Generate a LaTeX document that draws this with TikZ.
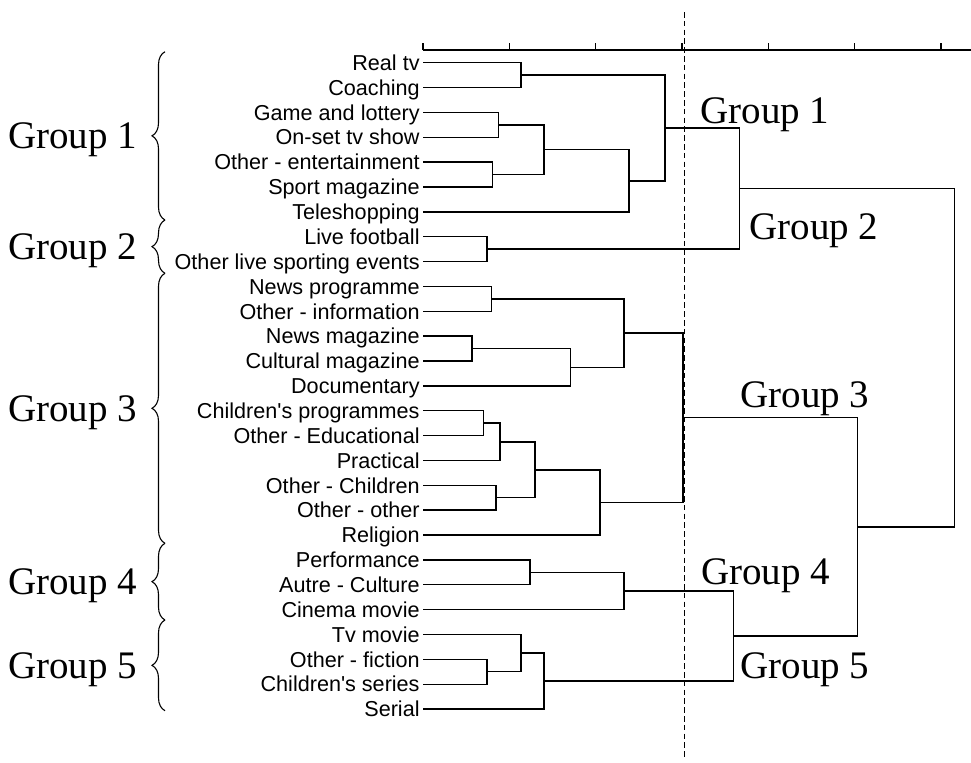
\documentclass[tikz,border=0pt]{standalone}
\usepackage{fontspec}
\setmainfont{Liberation Serif}
\newfontfamily\leaffont{Liberation Sans}
\usetikzlibrary{positioning,decorations.pathreplacing}

\begin{document}
\begin{tikzpicture}[x=0.5pt,y=-0.5pt,
  leaf/.style={anchor=east,inner sep=1.5pt,text height=7.7pt,text depth=0pt,font=\leaffont\fontsize{10.8}{12}\selectfont},
  grp/.style={inner sep=0pt,font=\fontsize{19.5}{22}\selectfont},
  link/.style={line width=0.7pt,draw=black},
  cut/.style={line width=0.55pt,dash pattern=on 2.8pt off 1.6pt},
  grpbrace/.style={decorate,decoration={brace,amplitude=6.5pt},line width=0.55pt}
]
\useasboundingbox (0,0) rectangle (971,762);

\node[leaf] (realtv) at (423,62.7) {Real tv};
\node[leaf,below=12.43pt of realtv.east,anchor=east] (coaching) {Coaching};
\node[leaf,below=12.43pt of coaching.east,anchor=east] (game) {Game and lottery};
\node[leaf,below=12.43pt of game.east,anchor=east] (onset) {On-set tv show};
\node[leaf,below=12.43pt of onset.east,anchor=east] (otherent) {Other - entertainment};
\node[leaf,below=12.43pt of otherent.east,anchor=east] (sportmag) {Sport magazine};
\node[leaf,below=12.43pt of sportmag.east,anchor=east] (teleshop) {Teleshopping};
\node[leaf,below=12.43pt of teleshop.east,anchor=east] (livefoot) {Live football};
\node[leaf,below=12.43pt of livefoot.east,anchor=east] (otherlive) {Other live sporting events};
\node[leaf,below=12.43pt of otherlive.east,anchor=east] (newsprog) {News programme};
\node[leaf,below=12.43pt of newsprog.east,anchor=east] (otherinfo) {Other - information};
\node[leaf,below=12.43pt of otherinfo.east,anchor=east] (newsmag) {News magazine};
\node[leaf,below=12.43pt of newsmag.east,anchor=east] (cultmag) {Cultural magazine};
\node[leaf,below=12.43pt of cultmag.east,anchor=east] (docu) {Documentary};
\node[leaf,below=12.43pt of docu.east,anchor=east] (kidsprog) {Children's programmes};
\node[leaf,below=12.43pt of kidsprog.east,anchor=east] (otheredu) {Other - Educational};
\node[leaf,below=12.43pt of otheredu.east,anchor=east] (practical) {Practical};
\node[leaf,below=12.43pt of practical.east,anchor=east] (otherkids) {Other - Children};
\node[leaf,below=12.43pt of otherkids.east,anchor=east] (otherother) {Other - other};
\node[leaf,below=12.43pt of otherother.east,anchor=east] (religion) {Religion};
\node[leaf,below=12.43pt of religion.east,anchor=east] (perf) {Performance};
\node[leaf,below=12.43pt of perf.east,anchor=east] (autrecult) {Autre - Culture};
\node[leaf,below=12.43pt of autrecult.east,anchor=east] (cinema) {Cinema movie};
\node[leaf,below=12.43pt of cinema.east,anchor=east] (tvmovie) {Tv movie};
\node[leaf,below=12.43pt of tvmovie.east,anchor=east] (otherfic) {Other - fiction};
\node[leaf,below=12.43pt of otherfic.east,anchor=east] (kidsseries) {Children's series};
\node[leaf,below=12.43pt of kidsseries.east,anchor=east] (serial) {Serial};

\coordinate (rc) at (521,75.15);
\coordinate (go) at (498.7,124.85);
\coordinate (os) at (492.7,174.55);
\coordinate (gos) at (544,149.7);
\coordinate (tel) at (629,180.8);
\coordinate (g1) at (665,128);
\coordinate (g2) at (487,249.15);
\coordinate (g12) at (739.3,188.6);
\coordinate (inf) at (491.3,298.85);
\coordinate (mag) at (472,348.6);
\coordinate (doc) at (570.7,367.25);
\coordinate (nws) at (624,333.05);
\coordinate (edu) at (483.7,423.15);
\coordinate (prc) at (500,441.8);
\coordinate (oth) at (496,497.75);
\coordinate (kid) at (535,469.8);
\coordinate (rel) at (600,502.4);
\coordinate (g3) at (683,417.7);
\coordinate (pa) at (530,572.35);
\coordinate (g4) at (624,591);
\coordinate (fc) at (487,671.75);
\coordinate (tv) at (521,653.1);
\coordinate (g5) at (544,681.1);
\coordinate (g45) at (733.3,636);
\coordinate (g345) at (857.3,526.9);
\coordinate (root) at (954.3,357.7);

\draw[link] (realtv.east) -| (rc) |- (coaching.east);
\draw[link] (game.east) -| (go) |- (onset.east);
\draw[link] (otherent.east) -| (os) |- (sportmag.east);
\draw[link] (go) -| (gos) |- (os);
\draw[link] (gos) -| (tel) |- (teleshop.east);
\draw[link] (rc) -| (g1) |- (tel);
\draw[link] (livefoot.east) -| (g2) |- (otherlive.east);
\draw[link] (g1) -| (g12) |- (g2);
\draw[link] (newsprog.east) -| (inf) |- (otherinfo.east);
\draw[link] (newsmag.east) -| (mag) |- (cultmag.east);
\draw[link] (mag) -| (doc) |- (docu.east);
\draw[link] (inf) -| (nws) |- (doc);
\draw[link] (kidsprog.east) -| (edu) |- (otheredu.east);
\draw[link] (edu) -| (prc) |- (practical.east);
\draw[link] (otherkids.east) -| (oth) |- (otherother.east);
\draw[link] (prc) -| (kid) |- (oth);
\draw[link] (kid) -| (rel) |- (religion.east);
\draw[link] (nws) -| (g3) |- (rel);
\draw[link] (perf.east) -| (pa) |- (autrecult.east);
\draw[link] (pa) -| (g4) |- (cinema.east);
\draw[link] (otherfic.east) -| (fc) |- (kidsseries.east);
\draw[link] (tvmovie.east) -| (tv) |- (fc);
\draw[link] (tv) -| (g5) |- (serial.east);
\draw[link] (g4) -| (g45) |- (g5);
\draw[link] (g3) -| (g345) |- (g45);
\draw[link] (g12) -| (root) |- (g345);

\draw[link] (423,50) -- (971,50);
\foreach \t in {0,...,6}
  \draw[link] (423+86.3*\t,50) -- ++(0,-7);
\draw[cut] (684.3,12) -- (684.3,757);

\draw[grpbrace] (165,220) -- (165,51.7);
\draw[grpbrace] (165,273.3) -- (165,220);
\draw[grpbrace] (165,543.3) -- (165,273.3);
\draw[grpbrace] (165,620) -- (165,543.3);
\draw[grpbrace] (165,710.7) -- (165,620);

\node[grp,anchor=east,text height=12.9pt,text depth=0pt] (lg1) at (137.5,135.9) {Group 1};
\node[grp,anchor=east,text height=12.9pt,text depth=0pt] (lg2) at (137.5,246.7) {Group 2};
\node[grp,anchor=east,text height=12.9pt,text depth=0pt] (lg3) at (137.5,408.3) {Group 3};
\node[grp,anchor=east,text height=12.9pt,text depth=0pt] (lg4) at (137.5,581.7) {Group 4};
\node[grp,anchor=east,text height=12.9pt,text depth=0pt] (lg5) at (137.5,665.3) {Group 5};

\node[grp,anchor=base west] (rg1) at (700,123.3) {Group 1};
\node[grp,anchor=base west] (rg2) at (749,239.3) {Group 2};
\node[grp,anchor=base west] (rg3) at (740,407.3) {Group 3};
\node[grp,anchor=base west] (rg4) at (700.7,584) {Group 4};
\node[grp,anchor=base west] (rg5) at (740,678.3) {Group 5};
\end{tikzpicture}
\end{document}
